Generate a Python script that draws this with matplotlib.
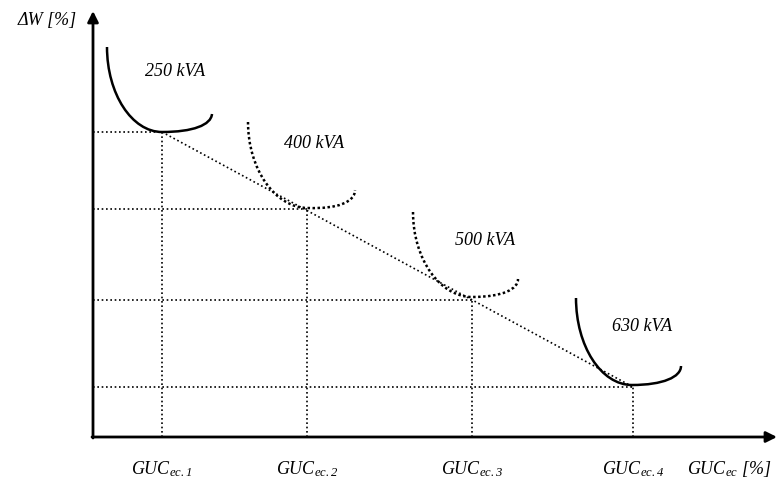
import matplotlib
matplotlib.use("Agg")
import matplotlib.pyplot as plt
from matplotlib.path import Path
from matplotlib.patches import PathPatch

plt.rcParams['mathtext.fontset'] = 'custom'
plt.rcParams['mathtext.it'] = 'Liberation Serif:italic'
plt.rcParams['mathtext.rm'] = 'Liberation Serif:italic'

# operating points (GUC_ec, dW), in drawing units measured from the origin
guc = [69, 214, 379, 540]
dw = [305, 228, 137, 50]
guc_labels = [r'$GUC_{ec.1}$', r'$GUC_{ec.2}$', r'$GUC_{ec.3}$', r'$GUC_{ec.4}$']

# transformer loss curves: control points of two cubic segments (left branch, right branch)
ratings = ['250 kVA', '400 kVA', '500 kVA', '630 kVA']
curve_left = [
    [(14, 390), (14, 343), (39, 305), (69, 305)],
    [(155, 315), (155, 268), (182, 229), (215, 229)],
    [(320, 225), (320, 178), (347, 140), (379, 140)],
    [(483, 139), (483, 91), (508, 52), (539, 52)],
]
curve_right = [
    [(69, 305), (100, 305), (118, 312), (119, 323)],
    [(215, 229), (245, 228), (262, 235), (262, 247)],
    [(379, 140), (410, 140), (425, 148), (425, 158)],
    [(539, 52), (570, 52), (588, 60), (588, 71)],
]
curve_dotted = [False, True, True, False]
label_pos = [(82, 367), (221, 295), (392, 197), (549, 111)]

fig = plt.figure(figsize=(7.77, 4.81), dpi=100)
ax = fig.add_axes([0, 0, 1, 1])
ax.set_xlim(-93, 684)
ax.set_ylim(-43, 438)
ax.axis('off')

dots = (0, (1, 1.6))

# axes with arrows
ax.annotate('', xy=(684, 0), xytext=(-1, 0),
            arrowprops=dict(arrowstyle='-|>', lw=2, color='black', mutation_scale=16, shrinkA=0, shrinkB=0))
ax.annotate('', xy=(0, 426), xytext=(0, -1),
            arrowprops=dict(arrowstyle='-|>', lw=2, color='black', mutation_scale=16, shrinkA=0, shrinkB=0))

# guide lines
for x, y in zip(guc, dw):
    ax.plot([0, x], [y, y], color='black', lw=1.2, ls=dots)
    ax.plot([x, x], [0, y], color='black', lw=1.2, ls=dots)
ax.plot([guc[0], guc[-1]], [dw[0], dw[-1]], color='black', lw=1.2, ls=dots)

codes = [Path.MOVETO] + [Path.CURVE4] * 6
for left, right, dotted, name, pos in zip(curve_left, curve_right, curve_dotted, ratings, label_pos):
    verts = left + right[1:]
    if dotted:
        patch = PathPatch(Path(verts, codes), fill=False, lw=1.8, ls=(0, (1, 1)), ec='black')
    else:
        patch = PathPatch(Path(verts, codes), fill=False, lw=1.8, ec='black')
    ax.add_patch(patch)
    ax.text(pos[0], pos[1], name, fontsize=13, family='Liberation Serif', style='italic',
            ha='center', va='center')

for x, lab in zip(guc, guc_labels):
    ax.text(x, -31, lab, fontsize=13, ha='center', va='center')
ax.text(636, -31, r'$GUC_{ec}$ [%]', fontsize=13, family='Liberation Serif', style='italic',
        ha='center', va='center')
ax.text(-75, 418, 'ΔW [%]', fontsize=13, family='Liberation Serif', style='italic',
        ha='left', va='center')

fig.savefig('out.png', dpi=100)
